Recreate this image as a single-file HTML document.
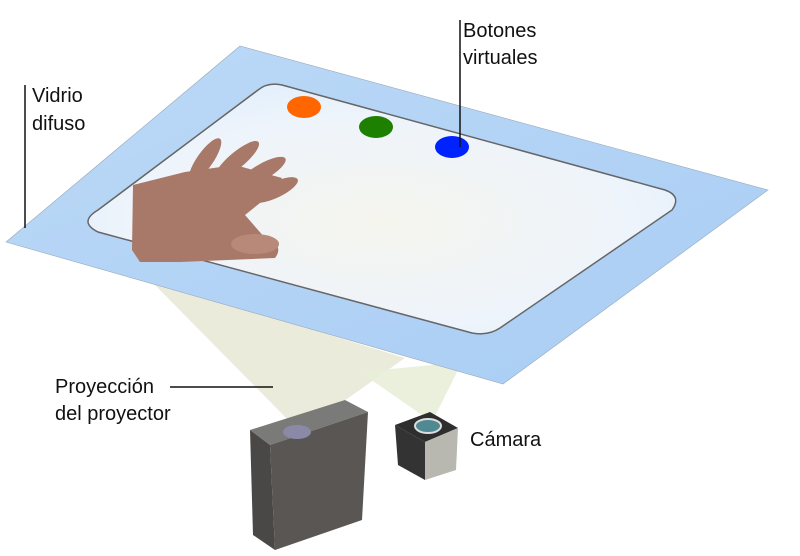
<!DOCTYPE html>
<html><head><meta charset="utf-8"><style>
body{margin:0;background:#fff;}
svg{display:block;}
text{font-family:"Liberation Sans",sans-serif;font-size:20px;fill:#111;}
</style></head><body>
<svg width="800" height="556" viewBox="0 0 800 556">
<defs>
<linearGradient id="gl" x1="0" y1="0" x2="1" y2="1">
<stop offset="0" stop-color="#bcd9f7"/><stop offset="1" stop-color="#a9cdf4"/></linearGradient>
<radialGradient id="inner" cx="0.5" cy="0.55" r="0.6">
<stop offset="0" stop-color="#f5f5ee"/><stop offset="0.7" stop-color="#eef4fb"/><stop offset="1" stop-color="#e2effc"/></radialGradient>
</defs>
<g>
<polygon points="150,280 405,358 300,432" fill="#e6e6d2" opacity="0.8"/>
<polygon points="360,372 462,362 432,422" fill="#e9eed8" opacity="0.9"/>
</g>
<polygon points="6,242 240,46 768,190 503,384" fill="url(#gl)" stroke="#9ab" stroke-width="0.6"/>
<path d="M98,210 L258,90 Q268,82 282,85 L665,190 Q682,196 672,210 L500,328 Q488,336 472,333 L98,232 Q78,222 98,210 Z" fill="url(#inner)" stroke="#666" stroke-width="1.5"/>
<ellipse cx="304" cy="107" rx="17" ry="11" fill="#ff6600"/>
<ellipse cx="376" cy="127" rx="17" ry="11" fill="#1e8000"/>
<ellipse cx="452" cy="147" rx="17" ry="11" fill="#0022ff"/>
<g fill="#a87868">
<path d="M133,185 L185,172 L235,165 L282,178 L270,195 L245,215 L265,238 Q285,245 275,258 L180,262 L140,262 L132,250 Z"/>
<ellipse cx="205" cy="160" rx="8" ry="26" transform="rotate(35 205 160)"/>
<ellipse cx="237" cy="160" rx="8" ry="28" transform="rotate(50 237 160)"/>
<ellipse cx="262" cy="172" rx="8" ry="27" transform="rotate(60 262 172)"/>
<ellipse cx="275" cy="190" rx="8" ry="25" transform="rotate(65 275 190)"/>
<ellipse cx="255" cy="244" rx="24" ry="10" fill="#b88878"/>
</g>
<g>
<polygon points="250,430 345,400 368,412 270,445" fill="#7a7a78"/>
<polygon points="250,430 270,445 275,550 253,535" fill="#4a4846"/>
<polygon points="270,445 368,412 362,520 275,550" fill="#595654"/>
<ellipse cx="297" cy="432" rx="14" ry="7" fill="#8a8aa8"/>
</g>
<g>
<polygon points="395,425 430,412 458,428 425,442" fill="#2e2e2e"/>
<polygon points="395,425 425,442 425,480 398,465" fill="#333"/>
<polygon points="425,442 458,428 456,470 425,480" fill="#b8b8b0"/>
<ellipse cx="428" cy="426" rx="13" ry="7" fill="#4f8a92" stroke="#ddd" stroke-width="2"/>
</g>
<g stroke="#111" stroke-width="1.5">
<line x1="460" y1="20" x2="460" y2="147"/>
<line x1="25" y1="85" x2="25" y2="228"/>
<line x1="170" y1="387" x2="273" y2="387"/>
</g>
<text x="463" y="37">Botones</text>
<text x="463" y="64">virtuales</text>
<text x="32" y="102">Vidrio</text>
<text x="32" y="130">difuso</text>
<text x="55" y="393">Proyección</text>
<text x="55" y="420">del proyector</text>
<text x="470" y="446">Cámara</text>
</svg>
</body></html>
